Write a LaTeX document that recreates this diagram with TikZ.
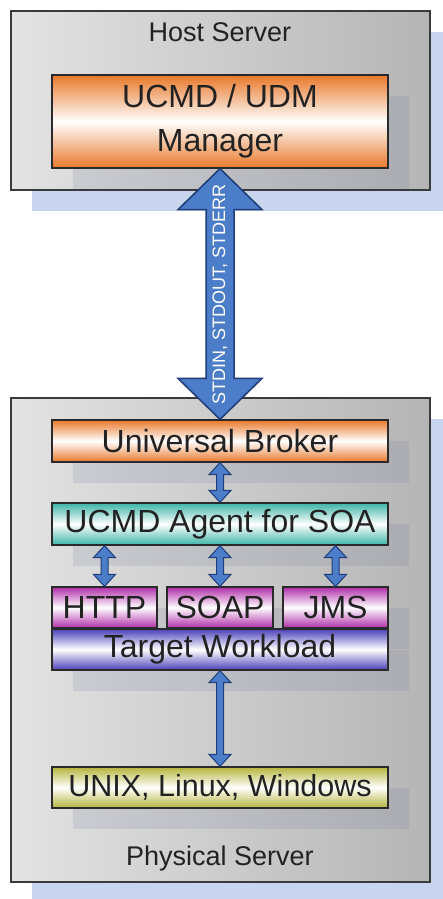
\documentclass[tikz,border=0pt]{standalone}
\usepackage{fontspec}
\setmainfont{Liberation Sans}
\usetikzlibrary{
    calc,
    shadows
}
\definecolor{shadowblue}{HTML}{C9D5EE}
\definecolor{innershadow}{HTML}{6A7896}
\definecolor{edgegray}{HTML}{3A3A3A}
\definecolor{edgedark}{HTML}{2A2A2A}
\definecolor{textdark}{HTML}{222222}
\definecolor{brokerorange}{HTML}{E8782A}
\definecolor{agentteal}{HTML}{3CB4A6}
\definecolor{protomagenta}{HTML}{B02CA8}
\definecolor{workloadblue}{HTML}{4A40B8}
\definecolor{osolive}{HTML}{B4B43C}
\definecolor{arrowblue}{HTML}{4C7DC8}
\definecolor{arrowedge}{HTML}{1E3C78}

\newcommand{\dblarrow}[6][]{%
    \draw[blockarrow,#1] (#2) -- ($(#2)+(#5,#6)$) -- ($(#2)+(#4,#6)$)
        -- ($(#3)+(#4,-#6)$) -- ($(#3)+(#5,-#6)$) -- (#3)
        -- ($(#3)+(-#5,-#6)$) -- ($(#3)+(-#4,-#6)$)
        -- ($(#2)+(-#4,#6)$) -- ($(#2)+(-#5,#6)$) -- cycle;}

\begin{document}
\begin{tikzpicture}[x=1pt,y=-1pt,
    server/.style={draw=edgegray,line width=1.8pt,left color=gray!22,right color=gray!58,
        minimum width=419pt,inner sep=0pt,
        drop shadow={shadow xshift=21pt,shadow yshift=-21pt,fill=shadowblue,opacity=1}},
    title/.style={text=textdark,font=\fontsize{27}{32}\selectfont},
    layer/.style={draw=edgedark,line width=1.2pt,top color=#1,bottom color=#1,middle color=white,
        minimum width=336pt,minimum height=42pt,inner sep=0pt,text=textdark,
        font=\fontsize{32}{44}\selectfont,
        drop shadow={shadow xshift=21pt,shadow yshift=-21pt,fill=innershadow,opacity=0.16}},
    blockarrow/.style={fill=arrowblue,draw=arrowedge,line width=1pt,line join=miter}]

\useasboundingbox (0,0) rectangle (442,899);

\node[server,minimum height=179pt] (host) at (220.5,100.5) {};
\node[server,minimum height=484pt] (physical) at (220.5,640) {};
\node[title] (hostlabel) at (220,32) {Host Server};
\node[title] (physicallabel) at (220,859) {Physical Server};

\node[layer=brokerorange,minimum height=93pt,align=center] (mgr) at (220,121.5) {UCMD / UDM\\Manager};
\node[layer=brokerorange] (broker) at (220,441) {Universal Broker};
\node[layer=agentteal] (agent) at (220,524) {UCMD Agent for SOA};
\node[layer=protomagenta,minimum width=105pt,minimum height=41pt] (http) at (104.5,607.5) {HTTP};
\node[layer=protomagenta,minimum width=106pt,minimum height=41pt] (soap) at (220,607.5) {SOAP};
\node[layer=protomagenta,minimum width=105pt,minimum height=41pt] (jms) at (335.5,607.5) {JMS};
\node[layer=workloadblue,minimum height=41pt] (workload) at (220,649.5) {Target Workload};
\node[layer=osolive,minimum height=41pt,font=\fontsize{30.5}{36}\selectfont] (os) at (220,787.5) {UNIX, Linux, Windows};

\coordinate (agenthttp) at (agent.south -| http.north);
\coordinate (agentjms) at (agent.south -| jms.north);

\dblarrow[line width=1.5pt]{mgr.south}{broker.north}{14}{42}{41}
\dblarrow{broker.south}{agent.north}{3.5}{11}{12}
\dblarrow{agenthttp}{http.north}{3.5}{11}{12}
\dblarrow{agent.south}{soap.north}{3.5}{11}{12}
\dblarrow{agentjms}{jms.north}{3.5}{11}{12}
\dblarrow{workload.south}{os.north}{3.5}{11}{12}

\node[text=white,rotate=90,font=\fontsize{18}{20}\selectfont] (stdio) at ($(mgr.south)!0.5!(broker.north)$) {STDIN, STDOUT, STDERR};

\end{tikzpicture}
\end{document}
